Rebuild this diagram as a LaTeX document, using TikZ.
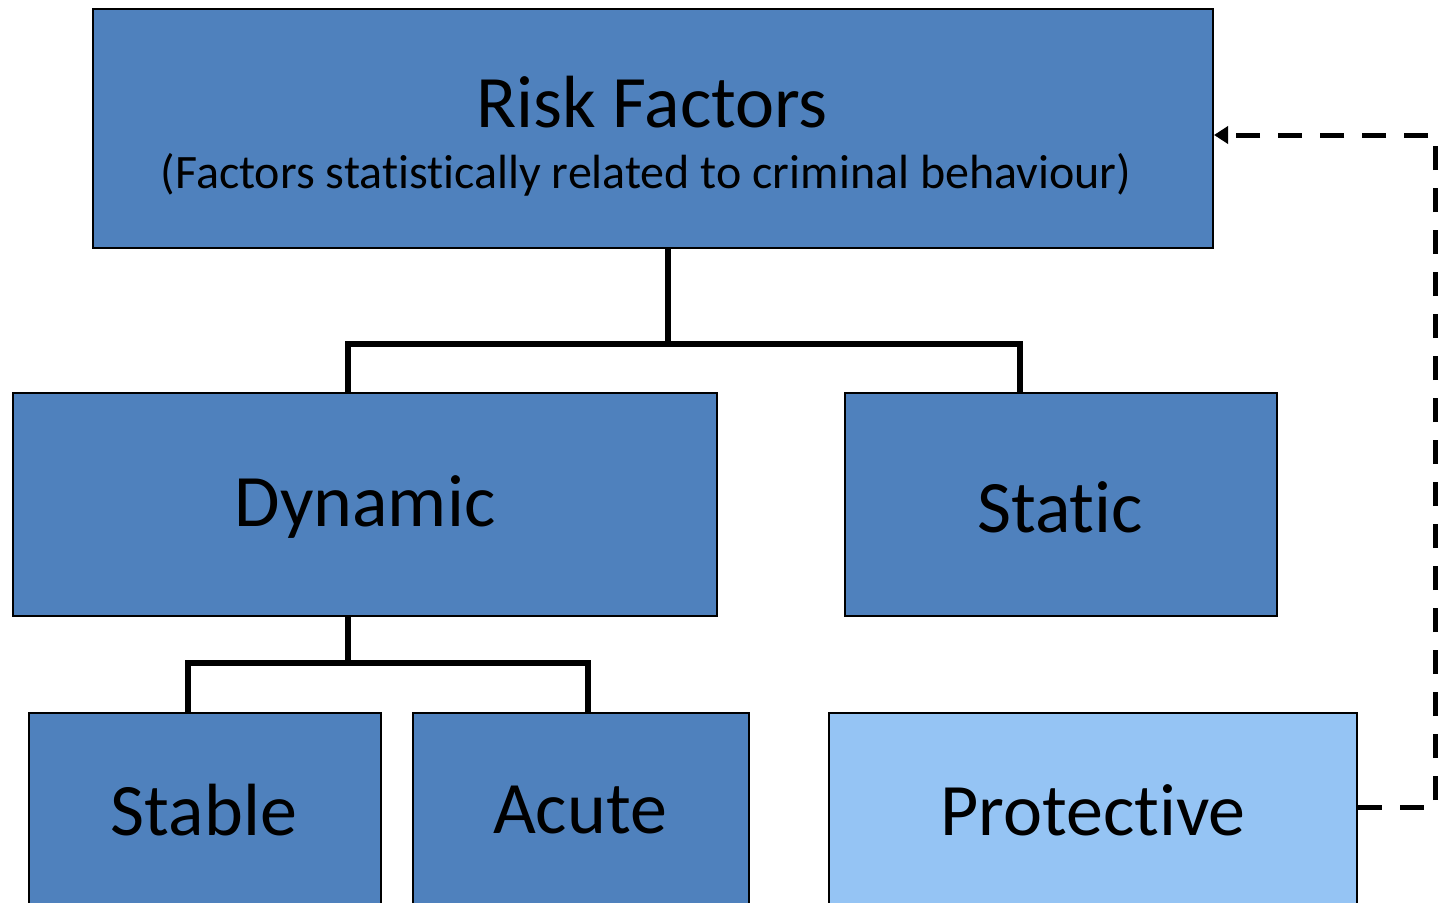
\documentclass[tikz,border=0pt]{standalone}
\usepackage{fontspec}
\setmainfont{Carlito}[Ligatures={NoCommon}]
\usetikzlibrary{arrows.meta}
\definecolor{boxblue}{HTML}{4F81BD}
\definecolor{lightblue}{HTML}{95C4F4}
\newcommand{\brk}{\kern0pt{}}
\begin{document}
\begin{tikzpicture}[x=1pt,y=-1pt,
  box/.style={draw=black,line width=2pt,fill=boxblue},
  lbox/.style={draw=black,line width=2pt,fill=lightblue},
  conn/.style={line width=5.5pt,black},
  dashconn/.style={line width=5pt,black,dash pattern=on 24pt off 18pt},
  big/.style={font=\fontsize{74}{80}\selectfont,inner sep=0pt},
  sub/.style={font=\fontsize{48}{54}\selectfont,inner sep=0pt}]
\useasboundingbox (0,0) rectangle (1439,902);
\clip (0,0) rectangle (1439,902);
% boxes
\node[box,minimum width=1120pt,minimum height=239pt,anchor=north west] (risk) at (92,8) {};
\node[box,minimum width=704pt,minimum height=223pt,anchor=north west] (dyn) at (12,392) {};
\node[box,minimum width=432pt,minimum height=223pt,anchor=north west] (stat) at (844,392) {};
\node[box,minimum width=352pt,minimum height=200pt,anchor=north west] (stab) at (28,712) {};
\node[box,minimum width=336pt,minimum height=200pt,anchor=north west] (acu) at (412,712) {};
\node[lbox,minimum width=528pt,minimum height=200pt,anchor=north west] (prot) at (828,712) {};
% texts
\node[big] (riskt) at (652,102) {Risk Factors};
\node[sub] (riskst) at (646,175) {(Factors stat\brk ist\brk ically related to criminal behaviour)};
\node[big] (dynt) at (365,507) {Dynamic};
\node[big] (statt) at (1060,507) {Stat\brk ic};
\node[big] (stabt) at (204,810) {Stable};
\node[big] (acut) at (580,810) {Acute};
\node[big] (prott) at (1093,810) {Protect\brk ive};
% tree connectors
\coordinate (j1) at (668,344);
\coordinate (j2) at (348,663);
\draw[conn] (risk.south -| j1) -- (j1);
\draw[conn] (dyn.north -| 348,0) |- (j1) -| (stat.north -| 1020,0);
\draw[conn] (dyn.south -| j2) -- (j2);
\draw[conn] (stab.north -| 188,0) |- (j2) -| (acu.north -| 588,0);
% dashed feedback
\coordinate (c1) at (1435,807);
\coordinate (c2) at (1435,135);
\draw[dashconn,-{Triangle[length=14pt,width=17pt]}] (prot.east |- c1) -- (c1) -- (c2) -- (risk.east |- c2);
\end{tikzpicture}
\end{document}
